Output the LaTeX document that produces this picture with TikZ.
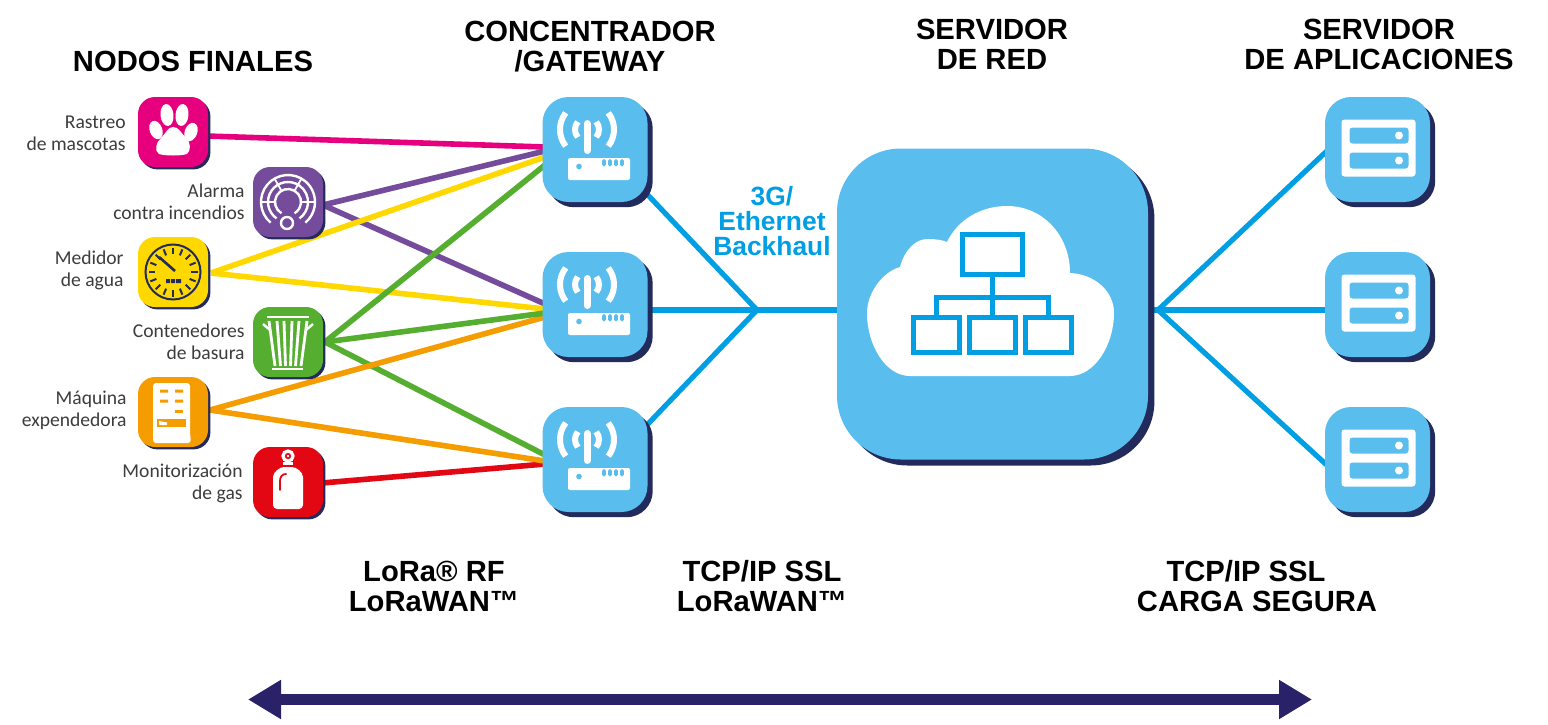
\documentclass[tikz,border=0pt]{standalone}
\usepackage{fontspec}
\setmainfont{Liberation Sans}
\newfontfamily\labelfont{Carlito}
\usetikzlibrary{shadows,backgrounds,arrows.meta}
\definecolor{navy}{HTML}{232A5C}
\definecolor{deep}{HTML}{2A2268}
\definecolor{sky}{HTML}{59BDEE}
\definecolor{cyanline}{HTML}{009FE3}
\definecolor{magenta1}{HTML}{E6007E}
\definecolor{purple1}{HTML}{744C9B}
\definecolor{yellow1}{HTML}{FFD800}
\definecolor{green1}{HTML}{55AE2F}
\definecolor{orange1}{HTML}{F59C00}
\definecolor{red1}{HTML}{E30613}
\definecolor{txt}{HTML}{3C3C3B}
\tikzset{
  x=0.5pt,y=-0.5pt,
  small/.style={fill=#1,draw=none,rounded corners=8.5pt,minimum size=35pt,inner sep=0pt,
    copy shadow={shadow xshift=1.2pt,shadow yshift=-1.2pt,fill=navy,draw=none}},
  medium/.style={fill=sky,draw=none,rounded corners=13pt,minimum size=52.5pt,inner sep=0pt,
    copy shadow={shadow xshift=2.6pt,shadow yshift=-2.6pt,fill=navy,draw=none}},
  big/.style={fill=sky,draw=none,rounded corners=32pt,minimum size=155.5pt,inner sep=0pt,
    copy shadow={shadow xshift=3.2pt,shadow yshift=-3pt,fill=navy,draw=none}},
  head/.style={font=\bfseries\fontsize{14.6}{15}\selectfont,text=black,align=center,inner sep=0pt},
  tag/.style={font=\labelfont\fontsize{9.8}{11}\selectfont,text=txt,align=right,inner sep=0pt,anchor=east},
  rf/.style={line width=2.8pt,draw=#1},
  wire/.style={line width=2.6pt,draw=cyanline},
  paw/.pic={
    \fill[white,shift={(-6,-17)},rotate=6] (0,0) ellipse [x radius=6.5,y radius=11];
    \fill[white,shift={(9,-17)},rotate=-6] (0,0) ellipse [x radius=6.5,y radius=11];
    \fill[white,shift={(-17,-2)},rotate=20] (0,0) ellipse [x radius=6.3,y radius=9.5];
    \fill[white,shift={(18,0)},rotate=-20] (0,0) ellipse [x radius=6.3,y radius=9.5];
    \fill[white] (-14,22) .. controls (-19,19) and (-17,10) .. (-12,6)
      .. controls (-7,1) and (-5,-5) .. (0,-5) .. controls (6,-5) and (8,1) .. (13,6)
      .. controls (18,10) and (18,19) .. (14,22) .. controls (8,24) and (-8,24) .. (-14,22) -- cycle;
  },
  alarmicon/.pic={
    \draw[white,line width=1.2pt] (130:27) arc [start angle=130,end angle=410,radius=27];
    \draw[white,line width=1.2pt] (125:20) arc [start angle=125,end angle=415,radius=20];
    \draw[white,line width=1.2pt] (120:13) arc [start angle=120,end angle=420,radius=13];
    \foreach \a in {-60,-120,0,180} {\draw[white,line width=.9pt] (\a:13) -- (\a:27);}
    \draw[white,line width=1.2pt,fill=purple1] (-1,21) circle [radius=6];
  },
  gauge/.pic={
    \draw[navy,line width=1pt] (0,0) circle [radius=27.5];
    \foreach \a in {0,22.5,...,337.5} {\draw[navy,line width=1pt] (\a:18) -- (\a:24.5);}
    \draw[navy,line width=1.3pt] (-14,-15) -- (2,-1);
    \fill[navy] (-7,7) rectangle (-3,11) (-2,7) rectangle (2,11) (3,7) rectangle (8,11);
  },
  bin/.pic={
    \draw[white,line width=1.2pt] (-21,-25) -- (21,-25);
    \draw[white,line width=1.2pt] (-25,-18) -- (-18,-12) (25,-18) -- (18,-12);
    \draw[white,line width=1.2pt] (-16,27) -- (15,27);
    \foreach \t/\b in {-19/-13,-11/-7.5,-4/-2.5,4/2.5,11/7.5,19/13}
      {\draw[white,line width=1.4pt] (\t,-21) -- (\b,24);}
  },
  vend/.pic={
    \fill[white,rounded corners=1.5pt] (-20,-29) -- (17,-29) -- (17,20) -- (18,31) -- (-20,31) -- (-20,20) -- cycle;
    \fill[orange1] (-13,-22.5) rectangle (-5,-19.5) (2,-22.5) rectangle (10,-19.5);
    \fill[orange1] (-13,-12.5) rectangle (-5,-9.5) (2,-12.5) rectangle (10,-9.5);
    \fill[orange1] (2,-2.5) rectangle (10,.5);
    \fill[orange1] (-16,7) rectangle (13,15);
    \fill[white] (-14,9) -- (-6,10.5) -- (-6,13) -- (-14,13) -- cycle;
  },
  gasicon/.pic={
    \draw[white,line width=1.6pt] (0,-26) circle [radius=5];
    \fill[white] (0,-26) circle [radius=1.4];
    \fill[white] (-5,-20) rectangle (5,-17);
    \fill[white,rounded corners=2pt] (-15,27) -- (-15,-1) .. controls (-15,-10) and (-8,-15) .. (0,-15)
      .. controls (8,-15) and (15,-10) .. (15,-1) -- (15,27) -- cycle;
    \draw[red1,line width=.9pt,line cap=round] (-8,8) -- (-8,-1) .. controls (-8,-5) and (-6,-8) .. (-2,-8);
  },
  router/.pic={
    \draw[white,line width=3.5pt,line cap=round] (-8,-26) -- (-8,1);
    \draw[white,line width=3pt] (-8,-20)++(140:12) arc [start angle=140,end angle=220,radius=12];
    \draw[white,line width=3pt] (-8,-20)++(-40:12) arc [start angle=-40,end angle=40,radius=12];
    \draw[white,line width=3pt] (-8,-20)++(142:27) arc [start angle=142,end angle=218,radius=27];
    \draw[white,line width=3pt] (-8,-20)++(-38:27) arc [start angle=-38,end angle=38,radius=27];
    \fill[white,rounded corners=1pt] (-27,8.5) rectangle (35,30.5);
    \fill[sky] (-16,17) circle [radius=2.8];
    \foreach \q in {9,15,21,27} {\fill[sky,rounded corners=.8pt] (\q-1.8,9.5) rectangle (\q+1.8,17);}
  },
  rack/.pic={
    \fill[white,rounded corners=1.5pt] (-36,-30) rectangle (38,27);
    \fill[sky,rounded corners=1.5pt] (-28,-22) rectangle (31,-6);
    \fill[sky,rounded corners=1.5pt] (-28,3) rectangle (31,19);
    \fill[white] (21.5,-14) circle [radius=4];
    \fill[white] (21.5,11) circle [radius=4];
  },
  cloudnet/.pic={
    \fill[white] (-82.5,72) .. controls (-107,72) and (-125.5,41) .. (-125.5,9)
      .. controls (-125.5,-11) and (-110,-32) .. (-92.5,-37)
      .. controls (-88,-54) and (-77,-65) .. (-65,-65)
      .. controls (-57,-65) and (-50,-64) .. (-45.5,-62)
      .. controls (-35,-84) and (-12,-98) .. (14.5,-98)
      .. controls (50,-98) and (77.5,-69) .. (77.5,-31)
      .. controls (102,-30) and (121.5,-13) .. (121.5,9)
      .. controls (121.5,41) and (102,72) .. (77.5,72) -- cycle;
    \begin{scope}[draw=cyanline,line width=2.5pt]
      \draw (-30,-70) rectangle (30,-30);
      \draw (-79,13) rectangle (-33,48);
      \draw (-23,13) rectangle (23,48);
      \draw (33,13) rectangle (79,48);
      \draw (0,-30) -- (0,13);
      \draw (-56,13) -- (-56,-7) -- (56,-7) -- (56,13);
    \end{scope}
  }
}
\begin{document}
\begin{tikzpicture}
\useasboundingbox (0,0) rectangle (1548,724);
% end devices
\node[small=magenta1] (pet) at (173,132) {};
\node[small=purple1] (alarm) at (288,202) {};
\node[small=yellow1] (water) at (173,272) {};
\node[small=green1] (trash) at (288,342) {};
\node[small=orange1] (vending) at (173,412) {};
\node[small=red1] (gas) at (288,482) {};
\pic at (pet.center) {paw};
\pic at (alarm.center) {alarmicon};
\pic at (water.center) {gauge};
\pic at (trash.center) {bin};
\pic at (vending.center) {vend};
\pic at (gas.center) {gasicon};
% gateways
\node[medium] (gw1) at (595,149.5) {};
\node[medium] (gw2) at (595,304.5) {};
\node[medium] (gw3) at (595,459.5) {};
\pic at (gw1.center) {router};
\pic at (gw2.center) {router};
\pic at (gw3.center) {router};
% network server
\node[big] (net) at (992.5,304) {};
\pic at (net.center) {cloudnet};
% application servers
\node[medium] (app1) at (1377.5,149.5) {};
\node[medium] (app2) at (1377.5,304.5) {};
\node[medium] (app3) at (1377.5,459.5) {};
\pic at (app1.center) {rack};
\pic at (app2.center) {rack};
\pic at (app3.center) {rack};
% junctions
\coordinate (backhaul) at (757,310);
\coordinate (fan) at (1158,310);
\coordinate (petout) at (206,136);
\coordinate (alarmout) at (323,205);
\coordinate (waterout) at (211,273);
\coordinate (trashout) at (325,342);
\coordinate (vendout) at (210,410);
\coordinate (gasout) at (322,483);
\coordinate (a1) at (545,147);
\coordinate (a2) at (545,151);
\coordinate (a3) at (545,157);
\coordinate (a4) at (545,165);
\coordinate (b1) at (545,304);
\coordinate (b2) at (545,309);
\coordinate (b3) at (545,313);
\coordinate (b4) at (545,317);
\coordinate (c1) at (545,455);
\coordinate (c2) at (545,461);
\coordinate (c3) at (545,464);
\coordinate (g1out) at (645,192);
\coordinate (g2out) at (645,310);
\coordinate (g3out) at (645,427);
\coordinate (netin) at (840,310);
\coordinate (netout) at (1150,310);
\coordinate (s1in) at (1330,148);
\coordinate (s2in) at (1330,310);
\coordinate (s3in) at (1330,468);
\begin{scope}[on background layer]
  \draw[rf=green1] (trashout) -- (c1);
  \draw[rf=purple1] (alarmout) -- (b1);
  \draw[rf=yellow1] (waterout) -- (b2);
  \draw[rf=green1] (trashout) -- (a4);
  \draw[rf=yellow1] (waterout) -- (a3);
  \draw[rf=purple1] (alarmout) -- (a2);
  \draw[rf=orange1] (vendout) -- (b4);
  \draw[rf=green1] (trashout) -- (b3);
  \draw[rf=magenta1] (petout) -- (a1);
  \draw[rf=red1] (gasout) -- (c3);
  \draw[rf=orange1] (vendout) -- (c2);
  \draw[wire] (g1out) -- (backhaul) -- (g3out);
  \draw[wire] (g2out) -- (netin);
  \draw[wire] (s1in) -- (fan) -- (s3in);
  \draw[wire] (netout) -- (s2in);
\end{scope}
% arrow
\coordinate (arrowl) at (248,699.5);
\coordinate (arrowr) at (1312,699.5);
\draw[deep,line width=5.5pt,{Triangle[length=16.5pt,width=18.5pt]}-{Triangle[length=16.5pt,width=18.5pt]}] (arrowl) -- (arrowr);
% device labels
\node[tag] (t1) at (126,133) {Rastreo\\de mascotas};
\node[tag] (t2) at (245,202) {Alarma\\contra incendios};
\node[tag] (t3) at (124,270) {Medidor\\de agua};
\node[tag] (t4) at (245,342) {Contenedores\\de basura};
\node[tag] (t5) at (127,410) {Máquina\\expendedora};
\node[tag] (t6) at (243,483) {Monitorización\\de gas};
% headings
\node[head] (h1) at (193,61) {NODOS FINALES};
\node[head] (h2) at (590,47) {CONCENTRADOR\\/GATEWAY};
\node[head] (h3) at (992,44) {SERVIDOR\\DE RED};
\node[head] (h4) at (1379,44) {SERVIDOR\\DE APLICACIONES};
\node[head] (h5) at (434,586) {LoRa® RF\\LoRaWAN™};
\node[head] (h6) at (762,586) {TCP/IP SSL\\LoRaWAN™};
\node[head] (h7) at (1257,586) {\hspace*{-11pt}TCP/IP SSL\\CARGA SEGURA};
\node[head,text=cyanline,font=\bfseries\fontsize{13.2}{12.5}\selectfont] (h8) at (772,221) {3G/\\Ethernet\\Backhaul};
\end{tikzpicture}
\end{document}
